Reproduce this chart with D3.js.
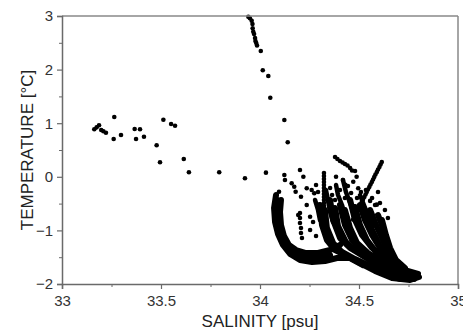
<!DOCTYPE html>
<html><head><meta charset="utf-8">
<script src="https://cdn.jsdelivr.net/npm/d3@7"></script>
<style>
body{margin:0;background:#fff}
svg{display:block}
text{font-family:"Liberation Sans",Arial,sans-serif}
</style>
</head><body>
<svg id="c" width="463" height="331"></svg>
<script>
// ---- tick labels ----
const xTicks = [33, 33.5, 34, 34.5, 35];
const yTicks = [-2, -1, 0, 1, 2, 3];
const xMinor = [33.25, 33.75, 34.25, 34.75];
const yMinor = [-1.5, -0.5, 0.5, 1.5, 2.5];

// ---- scattered points [salinity, temperature] ----
const shelfPoints = [
  [33.163,0.886],[33.175,0.923],[33.187,0.961],[33.198,0.873],[33.209,0.849],[33.222,0.823],
  [33.264,1.116],[33.261,0.705],[33.298,0.780],[33.367,0.892],[33.394,0.886],[33.374,0.705],
  [33.414,0.748],[33.478,0.588],[33.495,0.271],[33.512,1.065],[33.551,0.985],[33.571,0.953],
  [33.615,0.332],[33.641,0.084],[33.794,0.084],[33.924,-0.028],[34.030,0.077],[34.096,-0.278]
];
const upperBranch = [
  [33.941,2.987],[33.949,2.957],[33.958,2.912],[33.962,2.851],[33.963,2.771],[33.966,2.707],
  [33.970,2.664],[33.975,2.590],[33.977,2.534],[33.981,2.496],[33.985,2.450],[34.004,2.347],
  [34.014,1.987],[34.042,1.881],[34.052,1.476],[34.123,1.060],[34.140,0.644]
];
const midPoints = [
  [34.123,0.034],[34.126,-0.060],[34.202,0.127],[34.219,0.002],[34.160,-0.121],[34.173,-0.185],
  [34.180,-0.278],[34.207,-0.371],[34.236,-0.215],[34.261,-0.246],[34.274,-0.308],[34.236,-0.526],
  [34.193,-0.713],[34.253,-0.744],[34.294,-0.526],[34.202,-0.675],[34.202,-0.769],[34.202,-0.862],
  [34.207,-0.955],[34.207,-1.049],[34.212,-1.142],[34.419,-0.060],[34.431,-0.150],[34.471,-0.091],
  [34.496,-0.215],[34.510,-0.284],[34.488,0.002],[34.556,-0.450],[34.590,-0.520]
];
const blobTopPoints = [
  [34.283,-0.153],[34.293,-0.284],[34.354,-0.209],[34.364,-0.340],[34.404,-0.246],[34.444,-0.172],
  [34.460,-0.302],[34.490,-0.396],[34.535,-0.246],[34.566,-0.396],[34.581,-0.526],[34.606,-0.489],
  [34.631,-0.619],[34.596,-0.284],[34.384,0.000],[34.268,-0.843],[34.253,-0.993],[34.283,-1.104],
  [34.379,-0.433],[34.429,-0.396],[34.646,-0.769]
];
const columnPoints = [
  [34.323,0.071],[34.323,0.015],[34.323,-0.041],[34.323,-0.097],[34.323,-0.153],[34.323,-0.209],
  [34.323,-0.265],[34.323,-0.321],[34.323,-0.377],[34.323,-0.433],[34.323,-0.489],[34.323,-0.545],
  [34.323,-0.601],[34.323,-0.657],[34.323,-0.713],[34.323,-0.769],[34.323,-0.825]
];
const upperTrace = [
  [34.379,0.369],[34.391,0.332],[34.404,0.295],[34.417,0.267],[34.429,0.239],[34.442,0.211],
  [34.455,0.164],[34.465,0.118],[34.480,0.108]
];
const diagonalTrace = [
  [34.615,0.276],[34.609,0.229],[34.603,0.183],[34.596,0.136],[34.590,0.090],[34.583,0.043],
  [34.577,-0.004],[34.571,-0.050],[34.565,-0.097],[34.558,-0.144],[34.552,-0.190],[34.545,-0.237],
  [34.539,-0.284],[34.533,-0.330],[34.527,-0.377],[34.520,-0.424],[34.514,-0.470],[34.508,-0.517],
  [34.502,-0.563],[34.495,-0.610],[34.489,-0.657],[34.482,-0.703],[34.476,-0.750],[34.470,-0.797]
];

// ---- dense casts (continuous chains of points) ----
const castL1 = [[34.081,-0.340],[34.071,-0.582],[34.076,-0.843],[34.091,-1.067],[34.116,-1.272],[34.152,-1.440],[34.202,-1.552],[34.263,-1.590],[34.328,-1.571],[34.389,-1.515],[34.455,-1.515],[34.520,-1.646]];
const castL2 = [[34.106,-0.433],[34.101,-0.657],[34.106,-0.899],[34.121,-1.104],[34.146,-1.272],[34.182,-1.366],[34.232,-1.422],[34.293,-1.422],[34.354,-1.366],[34.404,-1.272]];
const castL3 = [[34.086,-0.433],[34.086,-0.713],[34.096,-0.955],[34.116,-1.179],[34.141,-1.347],[34.177,-1.459],[34.227,-1.496],[34.293,-1.496],[34.354,-1.459]];
const castC1 = [[34.303,-0.526],[34.313,-0.899],[34.338,-1.179],[34.379,-1.366],[34.429,-1.459],[34.505,-1.608],[34.581,-1.757],[34.667,-1.888],[34.758,-1.925],[34.803,-1.869]];
const castC1a = [[34.328,-0.619],[34.338,-0.955],[34.369,-1.235],[34.414,-1.403],[34.480,-1.534],[34.556,-1.664],[34.631,-1.813],[34.707,-1.907],[34.778,-1.907]];
const castC2 = [[34.354,-0.433],[34.369,-0.806],[34.404,-1.142],[34.455,-1.328],[34.530,-1.496],[34.606,-1.664],[34.682,-1.795],[34.768,-1.851]];
const castC2a = [[34.379,-0.582],[34.394,-0.918],[34.434,-1.216],[34.485,-1.384],[34.556,-1.552],[34.631,-1.701],[34.707,-1.813]];
const castC3 = [[34.404,-0.526],[34.429,-0.899],[34.465,-1.179],[34.515,-1.366],[34.581,-1.515],[34.657,-1.646],[34.732,-1.739],[34.798,-1.813]];
const castC3a = [[34.429,-0.619],[34.455,-0.955],[34.490,-1.235],[34.545,-1.422],[34.616,-1.571],[34.692,-1.701]];
const castC4 = [[34.455,-0.433],[34.480,-0.806],[34.515,-1.086],[34.566,-1.328],[34.631,-1.515],[34.707,-1.664]];
const castC4a = [[34.480,-0.563],[34.505,-0.899],[34.540,-1.179],[34.586,-1.403],[34.646,-1.590]];
const castC5 = [[34.505,-0.526],[34.530,-0.806],[34.566,-1.086],[34.606,-1.328],[34.657,-1.515]];
const castC5a = [[34.530,-0.657],[34.561,-0.955],[34.596,-1.216],[34.626,-1.459],[34.667,-1.664]];
const castC6 = [[34.556,-0.619],[34.586,-0.899],[34.621,-1.179],[34.646,-1.403],[34.682,-1.590]];
const castC6a = [[34.616,-0.806],[34.636,-1.086],[34.657,-1.328],[34.687,-1.552],[34.732,-1.701]];
const castC7 = [[34.596,-0.713],[34.621,-0.955],[34.636,-1.179],[34.657,-1.403]];
const streakS1 = [[34.333,-0.246],[34.343,-0.433],[34.354,-0.657],[34.369,-0.843]];
const streakS2 = [[34.384,-0.153],[34.394,-0.340],[34.414,-0.526],[34.429,-0.713]];
const streakS3 = [[34.419,-0.060],[34.434,-0.284],[34.455,-0.489],[34.475,-0.657]];
const streakS4 = [[34.278,-0.433],[34.293,-0.619],[34.303,-0.806]];
const streakS5 = [[34.505,-0.340],[34.525,-0.526],[34.545,-0.713],[34.571,-0.899]];

const casts = [castL1, castL2, castL3, castC1, castC1a, castC2, castC2a, castC3, castC3a,
               castC4, castC4a, castC5, castC5a, castC6, castC6a, castC7];
const streaks = [streakS1, streakS2, streakS3, streakS4, streakS5];
const dots = [].concat(shelfPoints, upperBranch, midPoints, blobTopPoints, columnPoints, upperTrace, diagonalTrace);

// ---- drawing ----
const svg = d3.select("#c");
const L = 62, R = 458, T = 16, B = 284;
const x = d3.scaleLinear().domain([33, 35]).range([L, R]);
const y = d3.scaleLinear().domain([-2, 3]).range([B, T]);
const axisColor = "#6a6a6a";

const line = d3.line().x(d => x(d[0])).y(d => y(d[1]));

const plot = svg.append("g");
plot.selectAll("path.cast").data(casts).join("path").attr("class","cast")
  .attr("d", line).attr("fill","none").attr("stroke","#000")
  .attr("stroke-width",6).attr("stroke-linecap","round").attr("stroke-linejoin","round");
plot.selectAll("path.streak").data(streaks).join("path").attr("class","streak")
  .attr("d", line).attr("fill","none").attr("stroke","#000")
  .attr("stroke-width",4.5).attr("stroke-linecap","round").attr("stroke-linejoin","round");
plot.selectAll("circle").data(dots).join("circle")
  .attr("cx", d => x(d[0])).attr("cy", d => y(d[1])).attr("r", 2.3).attr("fill","#000");

// frame (top/right)
svg.append("line").attr("x1",L).attr("x2",R).attr("y1",T).attr("y2",T).attr("stroke","#888").attr("stroke-width",1.5);
svg.append("line").attr("x1",R).attr("x2",R).attr("y1",T).attr("y2",B).attr("stroke","#888").attr("stroke-width",1.5);

function styleAxis(g){
  g.select(".domain").attr("stroke",axisColor).attr("stroke-width",1.5);
  g.selectAll(".tick line").attr("stroke",axisColor).attr("stroke-width",1.2);
  g.selectAll(".tick text").attr("fill","#333").style("font-size","15px").style("font-family",'"Liberation Sans",Arial,sans-serif');
}
const gx = svg.append("g").attr("transform",`translate(0,${B})`)
  .call(d3.axisBottom(x).tickValues(xTicks).tickSize(5).tickPadding(6).tickFormat(d3.format("")));
styleAxis(gx);
const gxm = svg.append("g").attr("transform",`translate(0,${B})`)
  .call(d3.axisBottom(x).tickValues(xMinor).tickSize(3).tickFormat(""));
gxm.select(".domain").remove(); gxm.selectAll(".tick line").attr("stroke",axisColor);

const gy = svg.append("g").attr("transform",`translate(${L},0)`)
  .call(d3.axisLeft(y).tickValues(yTicks).tickSize(5).tickPadding(4).tickFormat(d3.format("")));
styleAxis(gy);
const gym = svg.append("g").attr("transform",`translate(${L},0)`)
  .call(d3.axisLeft(y).tickValues(yMinor).tickSize(3).tickFormat(""));
gym.select(".domain").remove(); gym.selectAll(".tick line").attr("stroke",axisColor);

svg.append("text").attr("x",(L+R)/2).attr("y",327).attr("text-anchor","middle")
  .attr("fill","#222").style("font-size","17px").text("SALINITY [psu]");
svg.append("text").attr("transform","translate(33,150) rotate(-90)").attr("text-anchor","middle")
  .attr("fill","#222").style("font-size","17px").text("TEMPERATURE [°C]");
</script>
</body></html>
